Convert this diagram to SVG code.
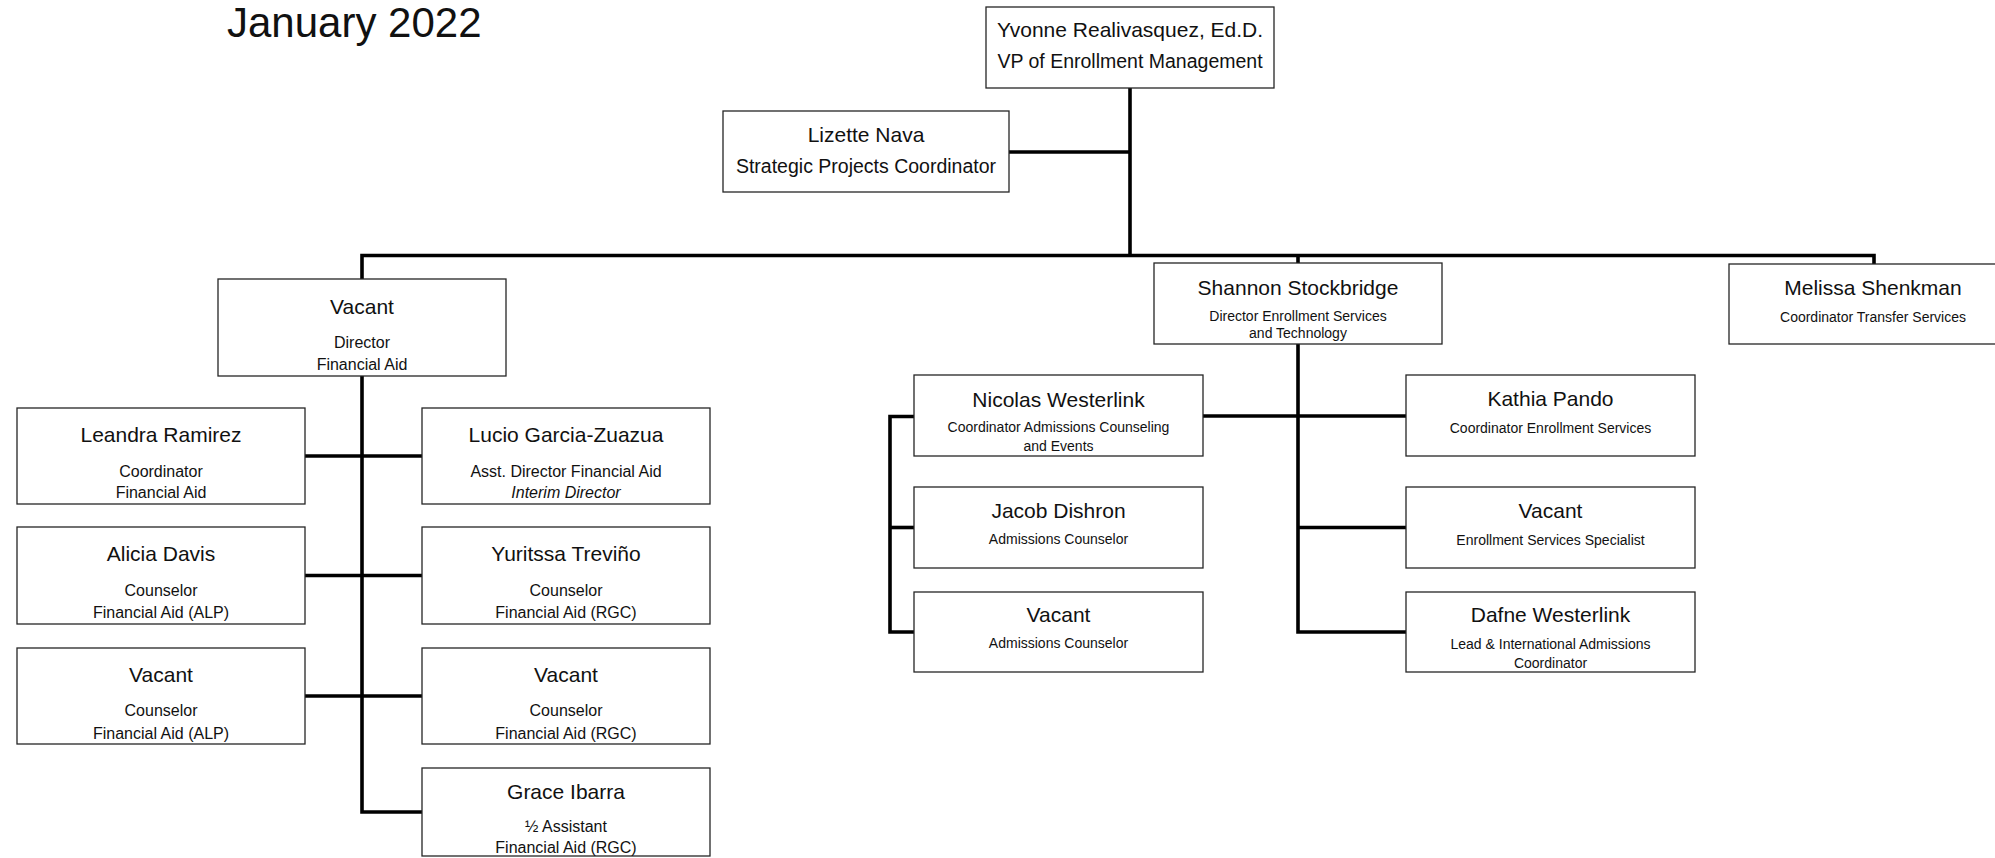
<svg xmlns="http://www.w3.org/2000/svg" width="1995" height="858" viewBox="0 0 1995 858">
<style>
text{font-family:"Liberation Sans",Arial,sans-serif;fill:#111;text-anchor:middle}
.title{font-size:42px;text-anchor:start}
.nm{font-size:21px}
.t1{font-size:19.5px}
.s2{font-size:16px}
.s3{font-size:14px}
.it{font-style:italic}
rect.box{fill:#fff;stroke:#262626;stroke-width:1.3}
.conn path{fill:none;stroke:#000;stroke-width:3.6;stroke-linejoin:miter;stroke-linecap:butt}
</style>
<rect width="1995" height="858" fill="#fff"/>
<text class="title" x="227" y="37">January 2022</text>
<g class="conn" id="connectors">
<path d="M1130,88 V255.5"/>
<path d="M1009,152 H1130"/>
<path d="M362,279 V255.5 H1874 V264"/>
<path d="M362,279 V812 H422"/>
<path d="M305,456 H422"/>
<path d="M305,575.5 H422"/>
<path d="M305,696 H422"/>
<path d="M1298,255.5 V632 H1406"/>
<path d="M1203,416 H1406"/>
<path d="M1298,527.5 H1406"/>
<path d="M914,416.5 H890 V632 H914"/>
<path d="M890,527.5 H914"/>
</g>
<g id="yvonne"><rect class="box" x="986" y="7" width="288" height="81"/><text class="nm" x="1130" y="37">Yvonne Realivasquez, Ed.D.</text><text class="t1" x="1130" y="68">VP of Enrollment Management</text></g>
<g id="lizette"><rect class="box" x="723" y="111" width="286" height="81"/><text class="nm" x="866" y="142">Lizette Nava</text><text class="t1" x="866" y="173">Strategic Projects Coordinator</text></g>
<g id="director-fa"><rect class="box" x="218" y="279" width="288" height="97"/><text class="nm" x="362" y="314">Vacant</text><text class="s2" x="362" y="348">Director</text><text class="s2" x="362" y="370">Financial Aid</text></g>
<g id="leandra"><rect class="box" x="17" y="408" width="288" height="96"/><text class="nm" x="161" y="442">Leandra Ramirez</text><text class="s2" x="161" y="477">Coordinator</text><text class="s2" x="161" y="498">Financial Aid</text></g>
<g id="lucio"><rect class="box" x="422" y="408" width="288" height="96"/><text class="nm" x="566" y="442">Lucio Garcia-Zuazua</text><text class="s2" x="566" y="477">Asst. Director Financial Aid</text><text class="s2 it" x="566" y="498">Interim Director</text></g>
<g id="alicia"><rect class="box" x="17" y="527" width="288" height="97"/><text class="nm" x="161" y="561">Alicia Davis</text><text class="s2" x="161" y="596">Counselor</text><text class="s2" x="161" y="618">Financial Aid (ALP)</text></g>
<g id="yuritssa"><rect class="box" x="422" y="527" width="288" height="97"/><text class="nm" x="566" y="561">Yuritssa Treviño</text><text class="s2" x="566" y="596">Counselor</text><text class="s2" x="566" y="618">Financial Aid (RGC)</text></g>
<g id="vacant-alp"><rect class="box" x="17" y="648" width="288" height="96"/><text class="nm" x="161" y="682">Vacant</text><text class="s2" x="161" y="716">Counselor</text><text class="s2" x="161" y="739">Financial Aid (ALP)</text></g>
<g id="vacant-rgc"><rect class="box" x="422" y="648" width="288" height="96"/><text class="nm" x="566" y="682">Vacant</text><text class="s2" x="566" y="716">Counselor</text><text class="s2" x="566" y="739">Financial Aid (RGC)</text></g>
<g id="grace"><rect class="box" x="422" y="768" width="288" height="88"/><text class="nm" x="566" y="799">Grace Ibarra</text><text class="s2" x="566" y="832">½ Assistant</text><text class="s2" x="566" y="853">Financial Aid (RGC)</text></g>
<g id="shannon"><rect class="box" x="1154" y="263" width="288" height="81"/><text class="nm" x="1298" y="295">Shannon Stockbridge</text><text class="s3" x="1298" y="321">Director Enrollment Services</text><text class="s3" x="1298" y="338">and Technology</text></g>
<g id="melissa"><rect class="box" x="1729" y="264" width="288" height="80"/><text class="nm" x="1873" y="295">Melissa Shenkman</text><text class="s3" x="1873" y="322">Coordinator Transfer Services</text></g>
<g id="nicolas"><rect class="box" x="914" y="375" width="289" height="81"/><text class="nm" x="1058.5" y="407">Nicolas Westerlink</text><text class="s3" x="1058.5" y="432">Coordinator Admissions Counseling</text><text class="s3" x="1058.5" y="451">and Events</text></g>
<g id="kathia"><rect class="box" x="1406" y="375" width="289" height="81"/><text class="nm" x="1550.5" y="406">Kathia Pando</text><text class="s3" x="1550.5" y="433">Coordinator Enrollment Services</text></g>
<g id="jacob"><rect class="box" x="914" y="487" width="289" height="81"/><text class="nm" x="1058.5" y="518">Jacob Dishron</text><text class="s3" x="1058.5" y="544">Admissions Counselor</text></g>
<g id="vacant-ess"><rect class="box" x="1406" y="487" width="289" height="81"/><text class="nm" x="1550.5" y="518">Vacant</text><text class="s3" x="1550.5" y="545">Enrollment Services Specialist</text></g>
<g id="vacant-ac"><rect class="box" x="914" y="592" width="289" height="80"/><text class="nm" x="1058.5" y="622">Vacant</text><text class="s3" x="1058.5" y="648">Admissions Counselor</text></g>
<g id="dafne"><rect class="box" x="1406" y="592" width="289" height="80"/><text class="nm" x="1550.5" y="622">Dafne Westerlink</text><text class="s3" x="1550.5" y="649">Lead &amp; International Admissions</text><text class="s3" x="1550.5" y="668">Coordinator</text></g>
</svg>
